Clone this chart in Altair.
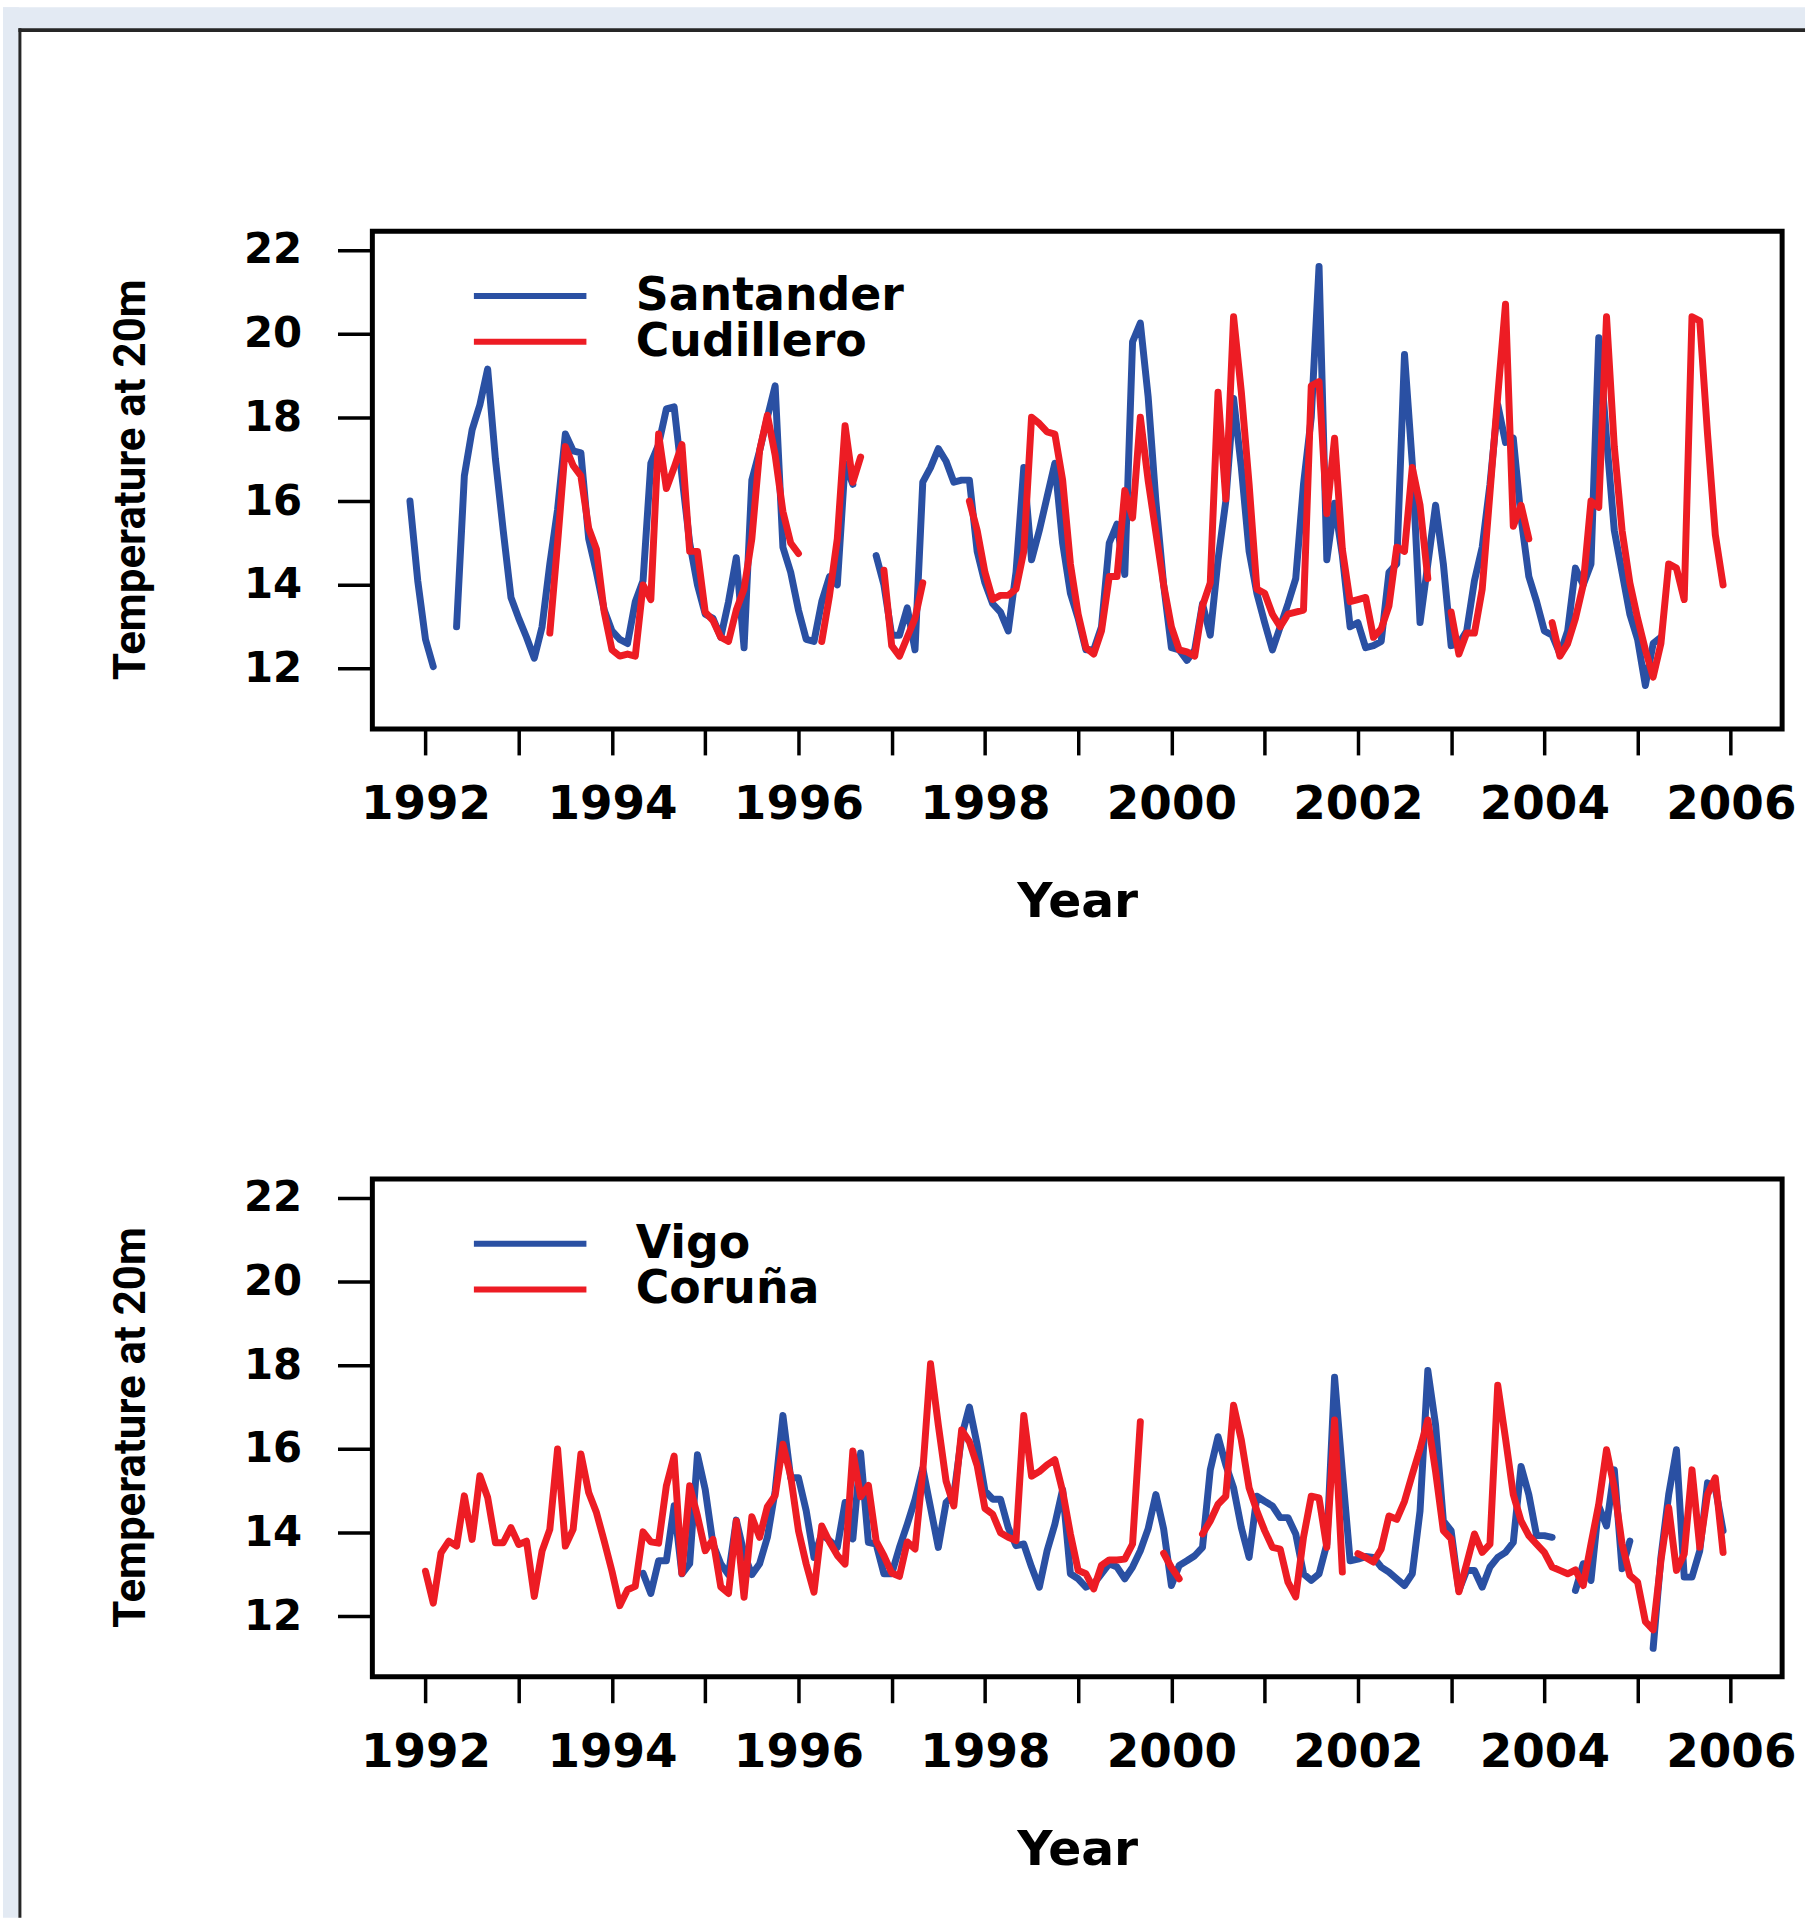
import altair as alt
import pandas as pd

N = None

# ---------------- data (monthly values, None = no data) ----------------
# Top panel
SANTANDER_START = (1991, 11)
santander = [
    16.0, 14.1,
    12.7, 12.05, N, N, 13.0, 16.6, 17.7, 18.3, 19.15, 17.0, 15.3, 13.7,
    13.2, 12.75, 12.25, 13.0, 14.5, 15.8, 17.6, 17.2, 17.15, 15.1, 14.3, 13.4,
    12.9, 12.7, 12.6, 13.6, 14.1, 16.9, 17.35, 18.2, 18.25, 16.6, 15.0, 14.0,
    13.3, 13.2, 12.75, 13.6, 14.65, 12.5, 16.5, 17.2, 18.0, 18.75, 14.9, 14.3,
    13.4, 12.7, 12.65, 13.6, 14.2, 14.0, 16.9, 16.4, N, N, 14.7, 14.0,
    12.8, 12.8, 13.45, 12.45, 16.45, 16.8, 17.25, 16.95, 16.45, 16.5, 16.5, 14.8,
    14.05, 13.55, 13.35, 12.9, 14.3, 16.8, 14.6, 15.3, 16.1, 16.9, 15.0, 13.8,
    13.2, 12.45, 12.45, 13.0, 15.0, 15.45, 14.25, 19.8, 20.25, 18.5, 16.0, 14.0,
    12.5, 12.45, 12.2, 12.45, 13.55, 12.8, 14.6, 16.0, 18.45, 16.8, 14.8, 13.8,
    13.1, 12.45, 13.0, 13.55, 14.15, 16.4, 18.0, 21.6, 14.6, 15.95, 14.7, 13.0,
    13.1, 12.5, 12.55, 12.65, 14.3, 14.5, 19.5, 16.9, 13.1, 14.5, 15.9, 14.5,
    12.55, 12.6, 12.9, 14.1, 14.9, 16.4, 18.3, 17.4, 17.5, 15.6, 14.2, 13.6,
    12.9, 12.8, 12.35, 12.9, 14.4, 14.0, 14.5, 19.9, 17.5, 15.3, 14.3, 13.3,
    12.7, 11.6, 12.6, 12.75,
]

CUDILLERO_START = (1993, 5)
cudillero = [
    12.85, 15.0, 17.3, 16.85, 16.6, 15.35, 14.85, 13.35,
    12.45, 12.3, 12.35, 12.3, 14.0, 13.65, 17.6, 16.3, 16.8, 17.35, 14.8, 14.8,
    13.35, 13.15, 12.75, 12.65, 13.4, 13.9, 15.1, 17.2, 18.05, 17.1, 15.75, 15.0,
    14.75, N, N, 12.65, 13.75, 15.1, 17.8, 16.45, 17.05, N, N, 14.35,
    12.55, 12.3, 12.75, 13.2, 14.05, N, N, N, N, N, 16.0, 15.3,
    14.3, 13.65, 13.75, 13.75, 13.9, 14.8, 18.0, 17.85, 17.65, 17.6, 16.5, 14.5,
    13.3, 12.5, 12.35, 12.9, 14.2, 14.2, 16.25, 15.6, 18.0, 16.5, 15.25, 14.0,
    13.0, 12.45, 12.4, 12.3, 13.5, 14.05, 18.6, 16.05, 20.4, 18.6, 16.4, 13.9,
    13.8, 13.3, 13.0, 13.3, 13.35, 13.4, 18.75, 18.85, 15.7, 17.5, 14.85, 13.6,
    13.65, 13.7, 12.75, 12.95, 13.5, 14.9, 14.8, 16.8, 15.9, 14.15, N, N,
    13.35, 12.35, 12.85, 12.85, 13.9, 16.2, 18.5, 20.7, 15.4, 15.9, 15.1, N,
    N, 13.1, 12.3, 12.6, 13.2, 14.0, 16.0, 15.85, 20.4, 17.3, 15.3, 14.05,
    13.2, 12.45, 11.8, 12.6, 14.5, 14.4, 13.65, 20.4, 20.3, 17.6, 15.2, 14.0,
]

# Bottom panel
VIGO_START = (1994, 5)
vigo = [
    13.03, 12.55, 13.33, 13.33, 14.64, 13.02, 13.26, 15.86,
    15.03, 13.73, 13.26, 13.0, 14.3, 13.5, 13.0, 13.26, 13.89, 14.99, 16.8, 15.31,
    15.31, 14.52, 13.41, 13.97, 13.81, 13.65, 14.72, 13.85, 15.9, 13.77, 13.73, 13.02,
    13.02, 13.65, 14.2, 14.79, 15.54, 14.6, 13.65, 14.72, 14.9, 16.3, 17.0, 16.1,
    15.0, 14.8, 14.8, 14.12, 13.69, 13.73, 13.18, 12.7, 13.57, 14.2, 15.03, 13.02,
    12.9, 12.7, 12.78, 13.02, 13.26, 13.18, 12.9, 13.18, 13.57, 14.09, 14.91, 14.09,
    12.74, 13.22, 13.33, 13.45, 13.65, 15.5, 16.29, 15.62, 15.07, 14.12, 13.41, 14.87,
    14.75, 14.64, 14.36, 14.36, 13.97, 13.02, 12.86, 13.02, 13.73, 17.71, 15.46, 13.33,
    13.37, 13.43, 13.41, 13.18, 13.06, 12.9, 12.74, 13.02, 14.52, 17.87, 16.57, 14.28,
    14.05, 12.62, 13.1, 13.1, 12.7, 13.18, 13.41, 13.53, 13.77, 15.58, 14.91, 13.93,
    13.93, 13.89, N, N, 12.62, 13.26, 12.86, 14.64, 14.16, 15.5, 13.14, 13.8,
    N, N, 11.24, 13.41, 14.91, 15.98, 12.94, 12.94, 13.57, 15.19, 15.07, 14.05,
]

CORUNA_START = (1992, 1)
coruna = [
    13.08, 12.32, 13.52, 13.8, 13.68, 14.88, 13.84, 15.36, 14.84, 13.76, 13.76, 14.12,
    13.72, 13.8, 12.48, 13.56, 14.08, 16.0, 13.68, 14.08, 15.88, 14.96, 14.48, 13.8,
    13.08, 12.26, 12.64, 12.72, 14.02, 13.78, 13.75, 15.12, 15.83, 13.03, 15.12, 14.4,
    13.57, 13.84, 12.71, 12.55, 14.28, 12.46, 14.38, 13.89, 14.62, 14.89, 16.11, 15.35,
    14.05, 13.25, 12.58, 14.16, 13.78, 13.46, 13.25, 15.95, 14.86, 15.13, 13.8, 13.45,
    13.04, 12.96, 13.78, 13.61, 15.46, 18.03, 16.57, 15.23, 14.64, 16.45, 16.17, 15.6,
    14.58, 14.44, 14.0, 13.89, 13.81, 16.8, 15.35, 15.46, 15.62, 15.74, 14.99, 13.97,
    13.1, 13.02, 12.66, 13.22, 13.35, 13.35, 13.37, 13.73, 16.65, N, N, 13.51,
    13.17, 12.9, N, N, 13.97, 14.28, 14.68, 14.87, 17.04, 16.21, 15.07, 14.52,
    14.05, 13.65, 13.61, 12.82, 12.47, 13.89, 14.87, 14.83, 13.65, 16.69, 13.06, N,
    13.5, 13.41, 13.3, 13.61, 14.4, 14.32, 14.75, 15.39, 16.0, 16.69, 15.46, 14.05,
    13.85, 12.59, 13.26, 13.97, 13.53, 13.73, 17.52, 16.25, 14.91, 14.28, 13.93, 13.73,
    13.53, 13.18, 13.1, 13.02, 13.11, 12.74, 13.73, 14.68, 15.98, 15.07, 13.73, 12.98,
    12.82, 11.88, 11.68, 13.33, 14.6, 13.1, 13.49, 15.5, 13.65, 14.91, 15.31, 13.53,
]

YEAR_TICKS = list(range(1992, 2007))
TEMP_TICKS = [12, 14, 16, 18, 20, 22]

BLUE = "#2a50a3"
RED = "#ed1c24"
PAGE_BLUE = "#e3eaf3"
EDGE = "#262626"
FONT = "DejaVu Sans"
TITLE_FONT = "Roboto"


def build(name, values, start):
    y0, m0 = start
    rows, seg, prev = [], 0, False
    for i, v in enumerate(values):
        if v is None:
            prev = False
            continue
        if not prev:
            seg += 1
        prev = True
        k = (m0 - 1) + i
        rows.append({"t": y0 + k / 12.0, "temp": v, "station": name,
                     "seg": f"{name}-{seg}"})
    return pd.DataFrame(rows)


W, H = 1416, 500


def panel(blue_name, blue_vals, blue_start, red_name, red_vals, red_start, deco=False):
    x = alt.X("t:Q",
              scale=alt.Scale(domain=[1991.43, 2006.55], nice=False, zero=False),
              axis=alt.Axis(values=YEAR_TICKS, format="d",
                            labelExpr="datum.value % 2 == 0 ? datum.label : ''",
                            grid=False, domain=False, ticks=True, zindex=1,
                            tickSize=26, tickWidth=3.5, tickColor="black",
                            labelFont=FONT, labelFontSize=47, labelFontWeight="bold",
                            labelColor="black", labelPadding=27,
                            labelOverlap=False, labelFlush=False, labelBound=False,
                            title="Year", titleFont=FONT, titleFontSize=49,
                            titleFontWeight="bold", titleColor="black",
                            titleBaseline="alphabetic", titleX=W / 2, titleY=188,
                            titleAlign="center"))
    y = alt.Y("temp:Q",
              scale=alt.Scale(domain=[10.56, 22.44], nice=False, zero=False),
              axis=alt.Axis(values=TEMP_TICKS, format="d", grid=False, domain=False,
                            zindex=1,
                            tickSize=35, tickWidth=3.5, tickColor="black",
                            labelFont=FONT, labelFontSize=42, labelFontWeight="bold",
                            labelColor="black", labelPadding=36,
                            labelOverlap=False, labelFlush=False, labelBound=False,
                            title="Temperature at 20m", titleFont=TITLE_FONT,
                            titleFontSize=44, titleFontWeight="bold", titleColor="black",
                            titleAngle=270, titleBaseline="alphabetic",
                            titleAlign="center", titleX=-229, titleY=249))
    color = alt.Color("station:N",
                      scale=alt.Scale(domain=[blue_name, red_name], range=[BLUE, RED]),
                      legend=alt.Legend(title=None, orient="none", legendX=102, legendY=42,
                                        direction="vertical", symbolType="M-5,0H5",
                                        symbolSize=511, symbolStrokeWidth=6,
                                        symbolOffset=33.5, labelFont=FONT,
                                        labelFontSize=46, labelFontWeight="bold",
                                        labelColor="black", labelOffset=83,
                                        labelLimit=600, rowPadding=-3.8, padding=0))
    line = dict(strokeWidth=7, strokeCap="round", strokeJoin="round")
    blue = alt.Chart(build(blue_name, blue_vals, blue_start)).mark_line(**line).encode(
        x=x, y=y, color=color, detail="seg:N")
    red = alt.Chart(build(red_name, red_vals, red_start)).mark_line(**line).encode(
        x=x, y=y, color=color, detail="seg:N")
    layers = [blue, red]
    if deco:
        # page frame: light strip along the top and left, dark edge of the sheet
        one = pd.DataFrame({"k": [0]})
        top_strip = alt.Chart(one).mark_rect(color=PAGE_BLUE).encode(
            x=alt.value(-371), x2=alt.value(1439), y=alt.value(-225), y2=alt.value(-203))
        left_strip = alt.Chart(one).mark_rect(color=PAGE_BLUE).encode(
            x=alt.value(-371), x2=alt.value(-355), y=alt.value(-225), y2=alt.value(1694))
        top_edge = alt.Chart(one).mark_rule(color=EDGE, strokeWidth=4).encode(
            x=alt.value(-355.5), x2=alt.value(1439), y=alt.value(-202))
        left_edge = alt.Chart(one).mark_rule(color=EDGE, strokeWidth=3).encode(
            x=alt.value(-354), y=alt.value(-204), y2=alt.value(1694))
        layers = [top_strip, left_strip, top_edge, left_edge] + layers
    return alt.layer(*layers).properties(width=W, height=H)


top = panel("Santander", santander, SANTANDER_START,
            "Cudillero", cudillero, CUDILLERO_START, deco=True)
bottom = panel("Vigo", vigo, VIGO_START, "Coruña", coruna, CORUNA_START)

chart = alt.vconcat(top, bottom, spacing=452, bounds="flush", padding=0).resolve_scale(
    color="independent"
).configure(background="white").configure_view(
    stroke="black", strokeWidth=5, fill="white"
)

chart.save("out.html", embed_options={"renderer": "svg", "actions": False})
